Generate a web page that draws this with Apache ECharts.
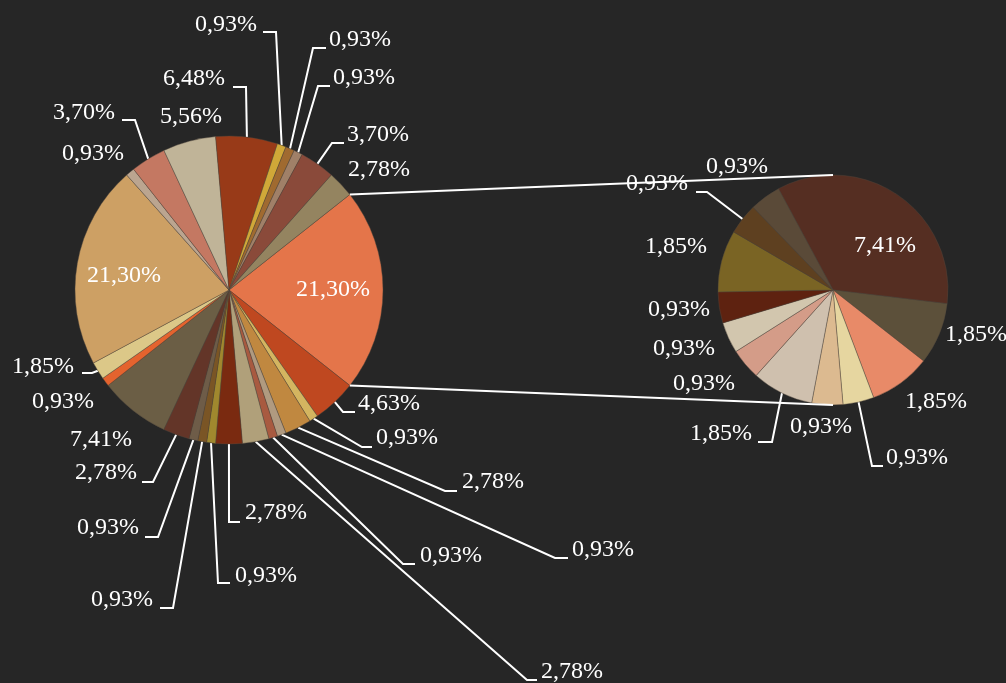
<!DOCTYPE html>
<html>
<head>
<meta charset="utf-8">
<script src="https://cdn.jsdelivr.net/npm/echarts@6/dist/echarts.min.js"></script>
<style>
  html, body { margin: 0; padding: 0; background: #262626; }
  #chart { width: 1006px; height: 683px; }
</style>
</head>
<body>
<div id="chart"></div>
<script>
// Primary pie, clockwise. The first value is the combined slice that is
// broken out into the secondary pie on the right.
const mainValues = [21.30, 4.63, 0.93, 2.78, 0.93, 0.93, 2.78, 2.78, 0.93, 0.93,
                    0.93, 2.78, 7.41, 0.93, 1.85, 21.30, 0.93, 3.70, 5.56, 6.48,
                    0.93, 0.93, 0.93, 3.70, 2.78];
const mainColors = ['#E4754A', '#BF4820', '#D4B560', '#C08840', '#B09A80', '#A85A40',
                    '#B0A07A', '#7A2A10', '#A0882E', '#7A5525', '#6E5C48', '#633528',
                    '#6B5E45', '#E4632E', '#DCC888', '#CDA064', '#BBA590', '#C47862',
                    '#C0B498', '#983A18', '#D0A838', '#A06A30', '#A08068', '#8A4A3A',
                    '#948460'];

// Secondary pie: breakdown of the combined slice, clockwise.
const subValues = [7.41, 1.85, 1.85, 0.93, 0.93, 1.85, 0.93, 0.93, 0.93, 1.85, 0.93, 0.93];
const subColors = ['#552E22', '#5C503A', '#E88A68', '#E6D6A0', '#DCBA90', '#CFC0AE',
                   '#D49C88', '#D2C6AE', '#5E2210', '#7A6424', '#5E4020', '#5A4A38'];

// Geometry of the two pies (px). The primary pie is rotated so that the
// combined slice is centred on the 3 o'clock direction.
const sumMain = mainValues.reduce((a, b) => a + b, 0);
const MAIN = { cx: 229, cy: 290, r: 154, startAngle: mainValues[0] / sumMain * 360 / 2 };
const SUB = { cx: 833, cy: 290, r: 115, startAngle: 118.3 };

// Label placement: [x, y, align, leaderElbow, leaderEnd]
const mainLabelPos = [
  [333, 290, 'center'],
  [358, 404, 'left', [343, 412], [355, 412]],
  [376, 438, 'left', [362, 447], [372, 447]],
  [462, 482, 'left', [445, 491], [457, 491]],
  [572, 550, 'left', [555, 558], [568, 558]],
  [420, 556, 'left', [403, 564], [415, 564]],
  [541, 672, 'left', [527, 680], [537, 680]],
  [245, 513, 'left', [229, 522], [240, 522]],
  [235, 576, 'left', [218, 583], [230, 583]],
  [153, 600, 'right', [173, 608], [160, 608]],
  [139, 528, 'right', [158, 537], [145, 537]],
  [137, 473, 'right', [153, 482], [142, 482]],
  [70, 440, 'left'],
  [32, 402, 'left'],
  [74, 367, 'right', [92, 373], [82, 373]],
  [124, 276, 'center'],
  [62, 154, 'left'],
  [115, 113, 'right', [135, 120], [122, 120]],
  [160, 117, 'left'],
  [225, 79, 'right', [246, 87], [233, 87]],
  [257, 25, 'right', [276, 32], [263, 32]],
  [329, 40, 'left', [313, 48], [326, 48]],
  [333, 78, 'left', [318, 86], [330, 86]],
  [347, 135, 'left', [332, 143], [344, 143]],
  [348, 170, 'left']
];
const subLabelPos = [
  [885, 246, 'center'],
  [945, 335, 'left'],
  [905, 402, 'left'],
  [886, 458, 'left', [872, 466], [883, 466]],
  [790, 427, 'left'],
  [752, 434, 'right', [772, 442], [758, 442]],
  [673, 384, 'left'],
  [653, 349, 'left'],
  [648, 310, 'left'],
  [645, 247, 'left'],
  [688, 184, 'right', [707, 192], [696, 192]],
  [706, 167, 'left']
];

const fmt = v => v.toFixed(2).replace('.', ',') + '%';

// Clockwise-from-12-o'clock angle (deg) of the slice middles.
function midAngles(values, startAngle) {
  const sum = values.reduce((a, b) => a + b, 0);
  let acc = 90 - startAngle;
  return values.map(v => {
    const span = v / sum * 360;
    const mid = acc + span / 2;
    acc += span;
    return mid;
  });
}

function edgePoint(pie, deg) {
  const a = deg * Math.PI / 180;
  return [pie.cx + pie.r * Math.sin(a), pie.cy - pie.r * Math.cos(a)];
}

function labelLayoutFor(pie, values, spec) {
  const mids = midAngles(values, pie.startAngle);
  return function (params) {
    const s = spec[params.dataIndex];
    const out = { x: s[0], y: s[1], align: s[2], verticalAlign: 'middle' };
    if (s[3]) {
      out.labelLinePoints = [edgePoint(pie, mids[params.dataIndex]), s[3], s[4]];
    }
    return out;
  };
}

function pieData(values, colors, spec) {
  return values.map((v, i) => ({
    value: v,
    itemStyle: { color: colors[i] },
    labelLine: { show: !!spec[i][3] }
  }));
}

const labelStyle = {
  show: true,
  position: 'outside',
  color: '#FFFFFF',
  fontFamily: 'Liberation Serif, "Times New Roman", serif',
  fontSize: 24,
  width: 120,
  overflow: 'none',
  formatter: p => fmt(p.value)
};

function pieSeries(pie, values, colors, spec) {
  return {
    type: 'pie',
    center: [pie.cx, pie.cy],
    radius: [0, pie.r],
    startAngle: pie.startAngle,
    clockwise: true,
    avoidLabelOverlap: false,
    animation: false,
    silent: true,
    itemStyle: { borderColor: 'rgba(80,70,60,0.7)', borderWidth: 0.6 },
    label: labelStyle,
    labelLine: { show: true, smooth: false, lineStyle: { color: '#FFFFFF', width: 2 } },
    labelLayout: labelLayoutFor(pie, values, spec),
    emphasis: { disabled: true },
    data: pieData(values, colors, spec)
  };
}

// Connector lines from the edges of the combined slice to the secondary pie.
const otherSpan = mainValues[0] / sumMain * 360;
const otherStart = 90 - MAIN.startAngle;
const topFrom = edgePoint(MAIN, otherStart);
const botFrom = edgePoint(MAIN, otherStart + otherSpan);
const topTo = [SUB.cx, SUB.cy - SUB.r];
const botTo = [SUB.cx, SUB.cy + SUB.r];

const chart = echarts.init(document.getElementById('chart'), null, { renderer: 'canvas' });
chart.setOption({
  backgroundColor: '#262626',
  animation: false,
  series: [
    pieSeries(MAIN, mainValues, mainColors, mainLabelPos),
    pieSeries(SUB, subValues, subColors, subLabelPos)
  ],
  graphic: [
    { type: 'polyline', z: 100, silent: true, shape: { points: [topFrom, topTo] },
      style: { stroke: '#FFFFFF', lineWidth: 2, fill: null } },
    { type: 'polyline', z: 100, silent: true, shape: { points: [botFrom, botTo] },
      style: { stroke: '#FFFFFF', lineWidth: 2, fill: null } }
  ]
});
</script>
</body>
</html>
